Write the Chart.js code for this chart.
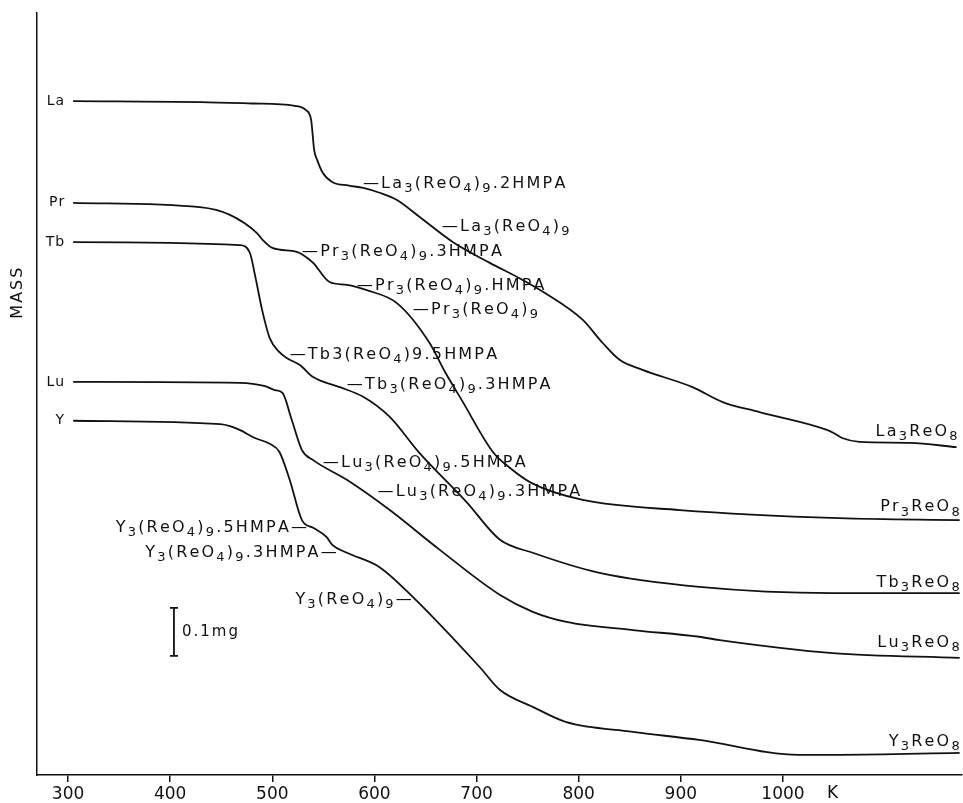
<!DOCTYPE html>
<html>
<head>
<meta charset="utf-8">
<script src="https://cdn.jsdelivr.net/npm/chart.js@4"></script>
<style>
  html, body { margin: 0; padding: 0; background: #fff; }
  #wrap { width: 963px; height: 803px; }
</style>
</head>
<body>
<div id="wrap"><canvas id="tga" width="963" height="803"></canvas></div>
<script>
// temperature (K) and mass (mg, offset per curve)
const laTemp = [305, 430, 480, 522, 533, 538, 541, 544, 549.5, 559, 575, 589, 605, 622, 644, 677, 713, 742, 767, 804, 823.5, 840, 862.5, 911.5, 941, 977, 1043, 1050, 1058, 1075, 1124, 1170];
const laMass = [1.404, 1.402, 1.399, 1.394, 1.385, 1.365, 1.302, 1.281, 1.254, 1.235, 1.228, 1.223, 1.213, 1.198, 1.163, 1.110, 1.067, 1.035, 1.004, 0.948, 0.900, 0.865, 0.844, 0.808, 0.777, 0.756, 0.719, 0.712, 0.702, 0.694, 0.692, 0.683];

const prTemp = [305, 429, 458.5, 485, 490.5, 500, 524, 529, 540, 556, 573, 592.5, 622, 654, 669, 685.5, 716, 732.5, 754, 804, 899, 1055, 1173];
const prMass = [1.192, 1.183, 1.167, 1.129, 1.115, 1.098, 1.090, 1.085, 1.067, 1.027, 1.021, 1.010, 0.983, 0.900, 0.840, 0.781, 0.673, 0.640, 0.608, 0.573, 0.552, 0.535, 0.531];

const tbTemp = [305, 468, 478, 483, 490, 497.5, 507, 514, 527, 540, 566, 589, 615, 644, 690, 723, 755, 820.5, 918, 1048.5, 1173];
const tbMass = [1.110, 1.104, 1.088, 1.042, 0.969, 0.910, 0.881, 0.869, 0.854, 0.829, 0.808, 0.788, 0.746, 0.671, 0.569, 0.490, 0.463, 0.421, 0.392, 0.379, 0.379];

const luTemp = [305, 468, 493, 502.5, 510, 519, 529, 540, 573, 615, 664, 723, 755, 788, 853, 918, 938, 1048.5, 1173];
const luMass = [0.819, 0.817, 0.810, 0.802, 0.796, 0.740, 0.677, 0.656, 0.615, 0.552, 0.469, 0.375, 0.340, 0.319, 0.302, 0.288, 0.281, 0.254, 0.244];

const yTemp = [305, 449, 458.5, 468, 483, 497.5, 507, 517, 529, 540, 553, 559, 573, 605, 637.5, 703, 723, 755, 788, 853, 918, 1016, 1055, 1173];
const yMass = [0.738, 0.731, 0.727, 0.719, 0.702, 0.690, 0.673, 0.615, 0.531, 0.515, 0.496, 0.479, 0.463, 0.433, 0.371, 0.225, 0.177, 0.142, 0.110, 0.090, 0.073, 0.042, 0.042, 0.046];

const seriesNames = ['La', 'Pr', 'Tb', 'Lu', 'Y'];
const xTicks = [300, 400, 500, 600, 700, 800, 900, 1000];

// text labels on the plot ("_" marks a subscript char)
const stepLabels = [
    { text: '—La_3(ReO_4)_9.2HMPA', x: 588.7, y: 1.231, align: 'left' },
    { text: '—La_3(ReO_4)_9', x: 666, y: 1.142, align: 'left' },
    { text: '—Pr_3(ReO_4)_9.3HMPA', x: 529, y: 1.090, align: 'left' },
    { text: '—Pr_3(ReO_4)_9.HMPA', x: 582.8, y: 1.019, align: 'left' },
    { text: '—Pr_3(ReO_4)_9', x: 637.6, y: 0.969, align: 'left' },
    { text: '—Tb3(ReO_4)9.5HMPA', x: 517, y: 0.875, align: 'left' },
    { text: '—Tb_3(ReO_4)_9.3HMPA', x: 573, y: 0.8125, align: 'left' },
    { text: '—Lu_3(ReO_4)_9.5HMPA', x: 549.5, y: 0.650, align: 'left' },
    { text: '—Lu_3(ReO_4)_9.3HMPA', x: 603, y: 0.590, align: 'left' },
    { text: 'Y_3(ReO_4)_9.5HMPA—', x: 534, y: 0.515, align: 'right' },
    { text: 'Y_3(ReO_4)_9.3HMPA—', x: 563, y: 0.4625, align: 'right' },
    { text: 'Y_3(ReO_4)_9—', x: 636.6, y: 0.365, align: 'right' },
    { text: 'La_3ReO_8', x: 1171, y: 0.715, align: 'right' },
    { text: 'Pr_3ReO_8', x: 1173, y: 0.558, align: 'right' },
    { text: 'Tb_3ReO_8', x: 1173, y: 0.400, align: 'right' },
    { text: 'Lu_3ReO_8', x: 1173, y: 0.275, align: 'right' },
    { text: 'Y_3ReO_8', x: 1173, y: 0.069, align: 'right' }
];

// scale bar: 0.1 mg
const barTemp = 403.7;
const barMass = [0.248, 0.348];

const FONT = '"DejaVu Sans", sans-serif';

// draw text with single-char subscripts marked by "_"
function drawRich(ctx, str, x, y, align, size, spacing) {
    const parts = [];
    for (let i = 0; i < str.length; i++) {
        if (str[i] === '_' && i + 1 < str.length) {
            parts.push({ ch: str[i + 1], sub: true });
            i++;
        } else {
            parts.push({ ch: str[i], sub: false });
        }
    }
    const mainFont = size + 'px ' + FONT;
    const subFont = Math.round(size * 0.8) + 'px ' + FONT;
    let total = 0;
    parts.forEach(p => {
        ctx.font = p.sub ? subFont : mainFont;
        p.w = ctx.measureText(p.ch).width + spacing;
        total += p.w;
    });
    total -= spacing;
    let cx = align === 'right' ? x - total : x;
    ctx.textAlign = 'left';
    ctx.textBaseline = 'middle';
    parts.forEach(p => {
        ctx.font = p.sub ? subFont : mainFont;
        ctx.fillText(p.ch, cx, p.sub ? y + 5 : y);
        cx += p.w;
    });
}

const labelPlugin = {
    id: 'tgaLabels',
    afterDraw(chart) {
        const ctx = chart.ctx;
        const xs = chart.scales.x;
        const ys = chart.scales.y;
        ctx.save();
        ctx.fillStyle = '#111';

        // curve names at the start of each trace
        chart.data.datasets.forEach(ds => {
            const first = ds.data[0];
            drawRich(ctx, ds.label, xs.getPixelForValue(first.x) - 9, ys.getPixelForValue(first.y),
                'right', 14, 1);
        });

        stepLabels.forEach(l => {
            drawRich(ctx, l.text, xs.getPixelForValue(l.x), ys.getPixelForValue(l.y), l.align, 16, 2.2);
        });

        // 0.1 mg bar
        const bx = xs.getPixelForValue(barTemp);
        const b0 = ys.getPixelForValue(barMass[0]);
        const b1 = ys.getPixelForValue(barMass[1]);
        ctx.strokeStyle = '#111';
        ctx.lineWidth = 1.8;
        ctx.beginPath();
        ctx.moveTo(bx, b0); ctx.lineTo(bx, b1);
        ctx.moveTo(bx - 4, b0); ctx.lineTo(bx + 4, b0);
        ctx.moveTo(bx - 4, b1); ctx.lineTo(bx + 4, b1);
        ctx.stroke();
        drawRich(ctx, '0.1mg', bx + 8, (b0 + b1) / 2, 'left', 15, 2);

        // unit after the last tick label
        drawRich(ctx, 'K', xs.getPixelForValue(1000) + 44, xs.bottom - 9, 'left', 17, 0);

        // y axis title
        ctx.translate(18, ys.getPixelForValue(1.006));
        ctx.rotate(-Math.PI / 2);
        ctx.font = '16px ' + FONT;
        ctx.textAlign = 'center';
        ctx.textBaseline = 'middle';
        ctx.letterSpacing = '2px';
        ctx.fillText('MASS', 0, 0);
        ctx.restore();
    }
};

function toPoints(temps, masses) {
    return temps.map((t, i) => ({ x: t, y: masses[i] }));
}

const allTemps = [laTemp, prTemp, tbTemp, luTemp, yTemp];
const allMasses = [laMass, prMass, tbMass, luMass, yMass];

const ctx = document.getElementById('tga').getContext('2d');
new Chart(ctx, {
    type: 'line',
    data: {
        datasets: seriesNames.map((name, i) => ({
            label: name,
            data: toPoints(allTemps[i], allMasses[i]),
            borderColor: '#111',
            borderWidth: 1.8,
            pointRadius: 0,
            fill: false,
            cubicInterpolationMode: 'monotone'
        }))
    },
    options: {
        responsive: false,
        animation: false,
        layout: { padding: { top: 13, right: 1, left: 0, bottom: 0 } },
        plugins: {
            legend: { display: false },
            tooltip: { enabled: false }
        },
        scales: {
            x: {
                type: 'linear',
                min: 269.6,
                max: 1175.3,
                afterBuildTicks: scale => { scale.ticks = xTicks.map(v => ({ value: v })); },
                afterFit: scale => { scale.height = 28; },
                ticks: {
                    autoSkip: false,
                    maxRotation: 0,
                    padding: 2,
                    color: '#111',
                    font: { family: FONT, size: 17 },
                    callback: v => String(v)
                },
                grid: {
                    drawOnChartArea: false,
                    drawTicks: true,
                    tickLength: 7,
                    color: '#111',
                    lineWidth: 1.5
                },
                border: { display: true, color: '#111', width: 1.5 }
            },
            y: {
                type: 'linear',
                min: 0,
                max: 1.5875,
                afterFit: scale => { scale.width = 37; },
                ticks: { display: false },
                grid: { display: false },
                border: { display: true, color: '#111', width: 1.5 }
            }
        }
    },
    plugins: [labelPlugin]
});
</script>
</body>
</html>
